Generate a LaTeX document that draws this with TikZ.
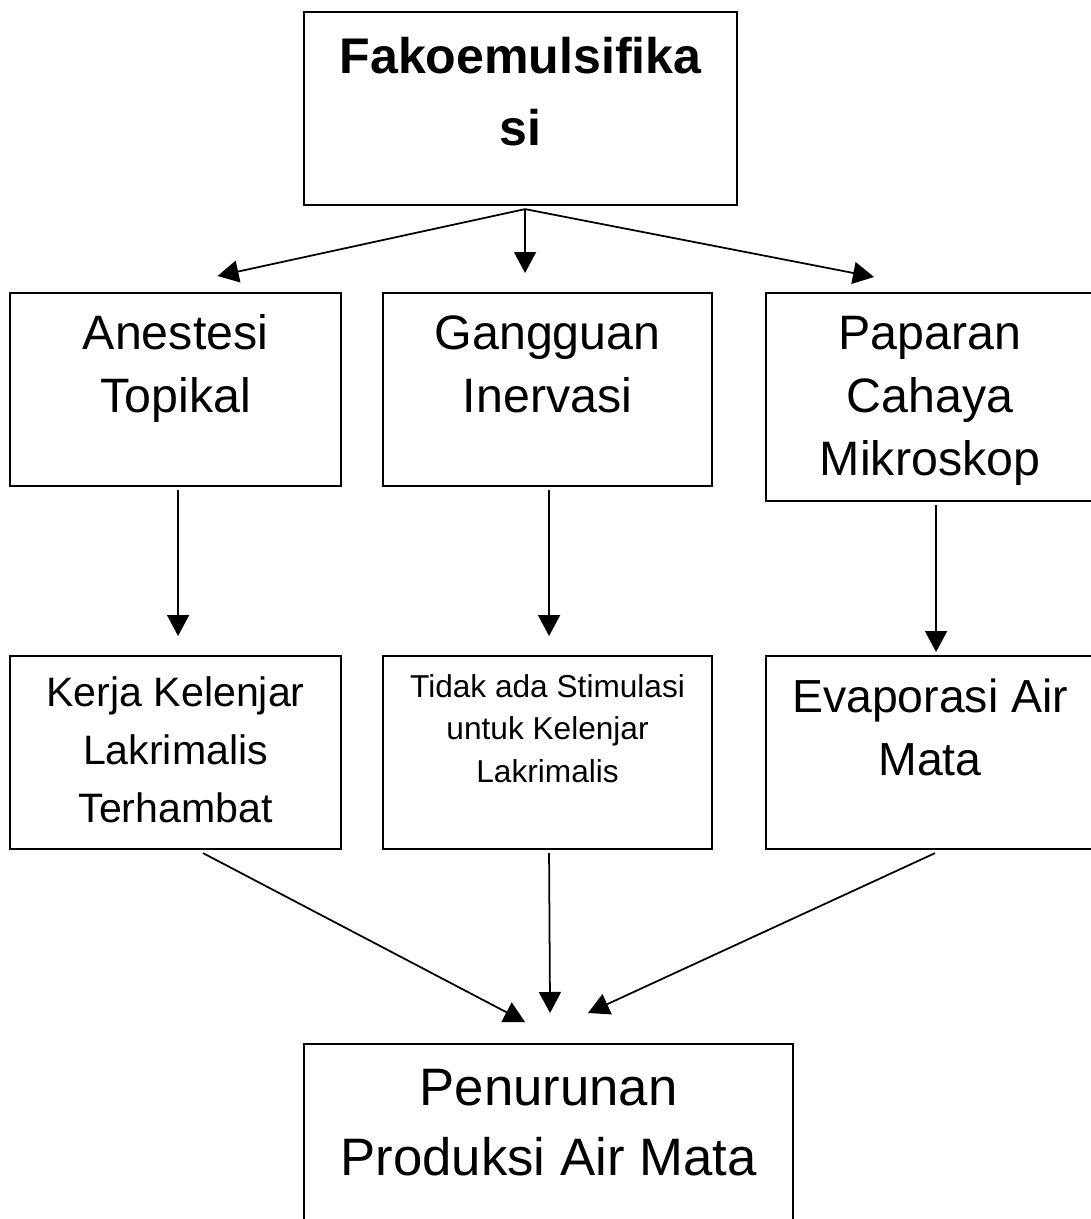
\documentclass[tikz,border=0pt]{standalone}
\usepackage{fontspec}
\setmainfont{Liberation Sans}
\usetikzlibrary{arrows.meta, positioning, calc}

\tikzset{
  kotak/.style={draw=black, line width=1.2pt, inner sep=0pt, anchor=north west},
  panah/.style={->, line width=1pt}
}

\begin{document}
\begin{tikzpicture}[x=0.2mm, y=-0.2mm, >={Triangle[length=4.2mm, width=4.4mm]}]

% Canvas (boxes at the right and bottom run past the edge)
\clip (0,0) rectangle (1091,1219);
\fill[white] (0,0) rectangle (1091,1219);

% Top box
\node[kotak] (fako) at (303,11) {\parbox[t][38.6mm][t]{86.6mm}{\centering\fontsize{28.5}{41}\selectfont\bfseries\rule{0pt}{12.2mm}Fakoemulsifika\\si}};

% Causes
\node[kotak] (anes) at (9,292) {\parbox[t][38.6mm][t]{66.2mm}{\centering\fontsize{27.5}{36}\selectfont\rule{0pt}{11.2mm}Anestesi\\Topikal}};
\node[kotak] (gang) at (382,292) {\parbox[t][38.6mm][t]{65.8mm}{\centering\fontsize{27.5}{36}\selectfont\rule{0pt}{11.2mm}Gangguan\\Inervasi}};
\node[kotak] (papa) at (765,292) {\parbox[t][41.6mm][t]{65.6mm}{\centering\fontsize{27.5}{36}\selectfont\rule{0pt}{11.2mm}Paparan\\Cahaya\\Mikroskop}};

% Effects
\node[kotak] (kerja) at (9,655) {\parbox[t][38.6mm][t]{66.2mm}{\centering\fontsize{23.4}{33}\selectfont\rule{0pt}{10mm}Kerja Kelenjar\\Lakrimalis\\Terhambat}};
\node[kotak] (tidak) at (382,655) {\parbox[t][38.6mm][t]{65.8mm}{\centering\fontsize{18}{24.4}\selectfont\rule{0pt}{8.2mm}Tidak ada Stimulasi\\untuk Kelenjar\\Lakrimalis}};
\node[kotak] (evap) at (765,655) {\parbox[t][38.6mm][t]{65.6mm}{\centering\fontsize{26.4}{36}\selectfont\rule{0pt}{11.2mm}Evaporasi Air\\Mata}};

% Result
\node[kotak] (turun) at (303,1043) {\parbox[t][40mm][t]{97.8mm}{\centering\fontsize{30}{40}\selectfont\rule{0pt}{12.2mm}Penurunan\\Produksi Air Mata}};

% Arrows from the top box
\coordinate (pecah) at ([shift={(4.5,3)}]fako.south);
\draw[panah] (pecah) -- ([shift={(42,-16)}]anes.north);
\draw[panah] (pecah) -- ([shift={(-22.5,-19)}]gang.north);
\draw[panah] (pecah) -- ([shift={(-56,-15)}]papa.north);

% Causes to effects
\draw[panah] ([shift={(2.5,3)}]anes.south) -- ([shift={(2.5,-19)}]kerja.north);
\draw[panah] ([shift={(1.5,3)}]gang.south) -- ([shift={(1.5,-19)}]tidak.north);
\draw[panah] ([shift={(6,3)}]papa.south) -- ([shift={(6,-3)}]evap.north);

% Effects to result
\draw[panah] ([shift={(27.5,3)}]kerja.south) -- ([shift={(-23.5,-21)}]turun.north);
\draw[panah] ([shift={(1.5,3)}]tidak.south) -- ([shift={(1.5,-30)}]turun.north);
\draw[panah] ([shift={(5,3)}]evap.south) -- ([shift={(39.5,-30)}]turun.north);

\end{tikzpicture}
\end{document}
